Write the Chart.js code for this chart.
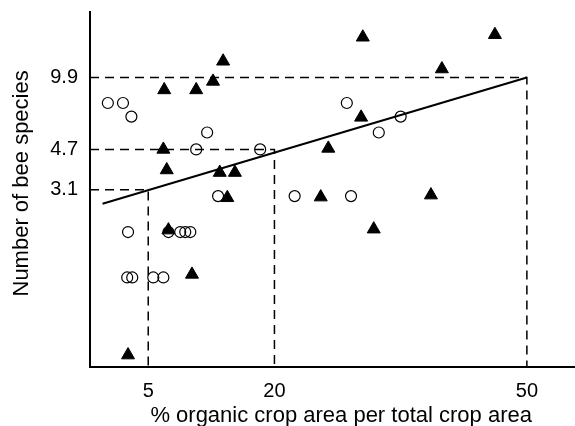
<!DOCTYPE html>
<html>
<head>
<meta charset="utf-8">
<title>Bee species vs organic crop area</title>
<script src="https://cdn.jsdelivr.net/npm/chart.js@4/dist/chart.umd.min.js"></script>
<style>
  html, body { margin: 0; padding: 0; background: #fff; }
  canvas { display: block; }
</style>
</head>
<body>
<canvas id="myChart" width="575" height="426"></canvas>
<script>
'use strict';

// open circles
const circleX = [0.2, 2.0, 3.0, 12.0, 10.7, 18.3, 13.3, 22.4, 28.6, 32.4, 35.0, 29.1, 2.6, 7.4, 8.8, 9.4, 10.0, 2.5, 3.1, 5.6, 6.8];
const circleY = [7.6, 7.6, 6.6, 5.6, 4.7, 4.7, 2.9, 2.9, 7.6, 5.6, 6.6, 2.9, 2.0, 2.0, 2.0, 2.0, 2.0, 1.25, 1.25, 1.25, 1.25];

// filled triangles
const triangleX = [13.9, 6.9, 10.7, 12.7, 6.8, 7.2, 13.5, 15.3, 14.4, 30.5, 46.2, 39.9, 30.3, 26.4, 25.5, 38.6, 31.8, 7.4, 10.2, 2.6];
const triangleY = [11.7, 8.7, 8.7, 9.5, 4.7, 3.8, 3.7, 3.7, 2.85, 15.0, 15.4, 10.8, 6.55, 4.75, 2.87, 2.93, 2.06, 2.04, 1.29, 0.56];

// fitted line
const fitX = [-0.43, 50];
const fitY = [2.68, 9.9];

// ticks and the dashed guides that go with them
const xTicks = [5, 20, 50];
const yTicks = [3.1, 4.7, 9.9];
const yTickLabels = ['3.1', '4.7', '9.9'];

const xMin = -1.92;
const xMax = 55.6;
const yMin = 0.495;
const yMax = 19.48;

const font = "'Liberation Sans', Arial, Helvetica, sans-serif";

const init = function() {
  drawChart();
};

const toPoints = function(xs, ys) {
  return xs.map(function(x, i) {
    return { x: x, y: ys[i] };
  });
};

const guideDatasets = function() {
  return xTicks.map(function(gx, i) {
    const gy = yTicks[i];
    return {
      label: 'guide ' + gx,
      data: [{ x: xMin, y: gy }, { x: gx, y: gy }, { x: gx, y: yMin }],
      showLine: true,
      borderColor: '#000',
      borderWidth: 1.5,
      borderDash: [9, 6],
      pointRadius: 0,
      order: 4
    };
  });
};

const drawChart = function() {
  const ctx = document.getElementById('myChart');
  const datasets = [
    {
      label: 'triangles',
      data: toPoints(triangleX, triangleY),
      pointStyle: 'triangle',
      pointRadius: 7.5,
      backgroundColor: '#000',
      borderColor: '#000',
      borderWidth: 1,
      order: 1
    },
    {
      label: 'circles',
      data: toPoints(circleX, circleY),
      pointStyle: 'circle',
      pointRadius: 5.5,
      backgroundColor: 'rgba(0,0,0,0)',
      borderColor: '#000',
      borderWidth: 1.2,
      order: 2
    },
    {
      label: 'fit',
      data: toPoints(fitX, fitY),
      showLine: true,
      borderColor: '#000',
      borderWidth: 2,
      pointRadius: 0,
      order: 3
    }
  ].concat(guideDatasets());

  new Chart(ctx, {
    type: 'scatter',
    data: { datasets: datasets },
    options: {
      responsive: false,
      animation: false,
      layout: {
        autoPadding: false,
        padding: { top: 12, right: 1, left: 0, bottom: 0 }
      },
      plugins: {
        legend: { display: false },
        tooltip: { enabled: false }
      },
      scales: {
        x: {
          type: 'linear',
          min: xMin,
          max: xMax,
          bounds: 'data',
          grid: { display: false, drawTicks: false },
          border: { display: true, color: '#000', width: 2 },
          afterBuildTicks: function(scale) {
            scale.ticks = xTicks.map(function(v) { return { value: v }; });
          },
          afterFit: function(scale) {
            scale.height = 59;
            scale.paddingLeft = 0;
            scale.paddingRight = 0;
          },
          ticks: {
            color: '#000',
            padding: 12,
            font: { family: font, size: 20 },
            callback: function(value) { return String(value); }
          },
          title: {
            display: true,
            text: '   % organic crop area per total crop area',
            color: '#000',
            font: { family: font, size: 22, lineHeight: '20px' },
            padding: 0
          }
        },
        y: {
          type: 'logarithmic',
          min: yMin,
          max: yMax,
          bounds: 'data',
          grid: { display: false, drawTicks: false },
          border: { display: true, color: '#000', width: 2 },
          afterBuildTicks: function(scale) {
            scale.ticks = yTicks.map(function(v) { return { value: v }; });
          },
          afterFit: function(scale) {
            scale.width = 90;
            scale.paddingTop = 0;
            scale.paddingBottom = 0;
          },
          ticks: {
            color: '#000',
            padding: 12,
            font: { family: font, size: 20 },
            callback: function(value) {
              const i = yTicks.indexOf(value);
              return i >= 0 ? yTickLabels[i] : '';
            }
          },
          title: {
            display: true,
            text: '  Number of bee species',
            color: '#000',
            font: { family: font, size: 22, lineHeight: 1.2 },
            padding: { top: 9, bottom: 0 }
          }
        }
      }
    }
  });
};

document.addEventListener('DOMContentLoaded', function() {
  init();
});
</script>
</body>
</html>
